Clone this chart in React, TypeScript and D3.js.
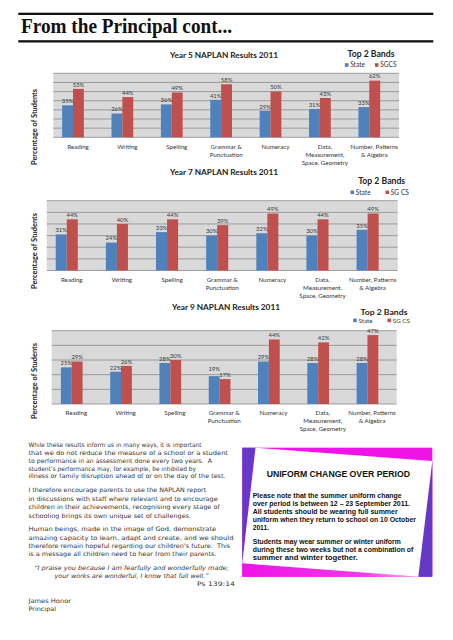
import React from "react";
import * as d3 from "d3";

// ---------- DATA ----------
const categories = [
  "Reading",
  "Writing",
  "Spelling",
  "Grammar & Punctuation",
  "Numeracy",
  "Data, Measurement, Space, Geometry",
  "Number, Patterns & Algebra",
];
const categoryLabelLines = [
  ["Reading"],
  ["Writing"],
  ["Spelling"],
  ["Grammar &", "Punctuation"],
  ["Numeracy"],
  ["Data,", "Measurement,", "Space, Geometry"],
  ["Number, Patterns", "& Algebra"],
];
const seriesNames = ["State", "SGCS"];
const legend5 = ["State", "SGCS"];
const legend79 = ["State", "SG CS"];

const year5State = [35, 26, 36, 41, 29, 31, 33];
const year5SGCS = [53, 44, 49, 58, 50, 43, 62];
const year7State = [31, 24, 33, 30, 32, 30, 35];
const year7SGCS = [44, 40, 44, 39, 49, 44, 49];
const year9State = [25, 22, 28, 19, 29, 28, 28];
const year9SGCS = [29, 26, 30, 17, 44, 42, 47];

const year5Grid = [0, 10, 20, 30, 40, 50, 60, 70];
const year7Grid = [0, 10, 20, 30, 40, 50, 60];
const year9Grid = [0, 10, 20, 30, 40, 50];

const pageTitle = "From the Principal cont...";
const para1 = [
  "While these results inform us in many ways, it is important",
  "that we do not reduce the measure of a school or a student",
  "to performance in an assessment done every two years.  A",
  "student\u2019s performance may, for example, be inhibited by",
  "illness or family disruption ahead of or on the day of the test.",
];
const para2 = [
  "I therefore encourage parents to use the NAPLAN report",
  "in discussions with staff where relevant and to encourage",
  "children in their achievements, recognising every stage of",
  "schooling brings its own unique set of challenges.",
];
const para3 = [
  "Human beings, made in the image of God, demonstrate",
  "amazing capacity to learn, adapt and create, and we should",
  "therefore remain hopeful regarding our children\u2019s future.  This",
  "is a message all children need to hear from their parents.",
];
const quoteLines = [
  "\u201CI praise you because I am fearfully and wonderfully made;",
  "your works are wonderful, I know that full well.\u201D",
];
const quoteRef = "Ps 139:14";
const signature = ["James Honor", "Principal"];

const boxTitle = "UNIFORM CHANGE OVER PERIOD";
const boxPara1 = [
  "Please note that the summer uniform change",
  "over period is between 12 \u2013 23 September 2011.",
  "All students should be wearing full summer",
  "uniform when they return to school on 10 October",
  "2011.",
];
const boxPara2 = [
  "Students may wear summer or winter uniform",
  "during these two weeks but not a combination of",
  "summer and winter together.",
];

// ---------- LAYOUT (positions / sizes only) ----------
const para1W = [173, 199.5, 183.5, 167.5, 197];
const para2W = [177.7, 189.3, 191.3, 162.7];
const para3W = [187.7, 205, 201.7, 188];
const quoteW = [194.7, 154];
const boxPara1W = [149, 157.3, 145, 163.3, 16.3];
const boxPara2W = [148, 160.7, 105];

const BLUE = "#4f81bd";
const RED = "#c0504d";
const colors = [BLUE, RED];
const CHART_FONT = "Lato, 'Open Sans', sans-serif";
const PROSE_FONT = "'DejaVu Sans', 'Open Sans', sans-serif";
const BOX_FONT = "'Liberation Sans', Arial, sans-serif";

type Layout = {
  x0: number; x1: number; y0: number; y1: number;
  barShift: number;
  titleCX: number; titleCY: number;
  bandsCX: number; bandsBase: number; bandsSize: number;
  legendY: number; legendSize: number; stateX: number; sgcsX: number;
  yTitleCY: number;
};

const layout5: Layout = {
  x0: 53.3, x1: 399, y0: 73.3, y1: 137.3, barShift: 5,
  titleCX: 224, titleCY: 55, bandsCX: 371, bandsBase: 56.6, bandsSize: 9,
  legendY: 65, legendSize: 6.6, stateX: 346.7, sgcsX: 376.7, yTitleCY: 127,
};
const layout7: Layout = {
  x0: 46.7, x1: 397.7, y0: 200.7, y1: 270.5, barShift: 5,
  titleCX: 224, titleCY: 171.7, bandsCX: 381.7, bandsBase: 184.1, bandsSize: 9,
  legendY: 192.3, legendSize: 6.6, stateX: 352.3, sgcsX: 387.3, yTitleCY: 251,
};
const layout9: Layout = {
  x0: 51.7, x1: 396.7, y0: 330.7, y1: 404, barShift: 4.6,
  titleCX: 226, titleCY: 307.3, bandsCX: 384, bandsBase: 315, bandsSize: 8,
  legendY: 320.4, legendSize: 6.2, stateX: 355, sgcsX: 389.3, yTitleCY: 381,
};

function NaplanChart(props: {
  title: string;
  state: number[];
  sgcs: number[];
  grid: number[];
  legend: string[];
  L: Layout;
}) {
  const { title, state, sgcs, grid, legend, L } = props;
  const series = [state, sgcs];
  const x = d3.scaleBand<string>().domain(categories).range([L.x0, L.x1]);
  const xb = d3
    .scaleBand<string>()
    .domain(categories)
    .range([L.x0 - L.barShift, L.x1 - L.barShift]);
  const barW = xb.step() * 0.22;
  const sub = d3.scaleBand<string>().domain(seriesNames).range([0, barW * 2]);
  const y = d3
    .scaleLinear()
    .domain([0, d3.max(grid) as number])
    .range([L.y1, L.y0]);

  const bars: any[] = [];
  const labels: any[] = [];
  categories.forEach((c, i) => {
    const redLabelY = y(sgcs[i]) - 2.2;
    seriesNames.forEach((s, j) => {
      const v = series[j][i];
      const bx = (xb(c) as number) + xb.bandwidth() / 2 - barW + (sub(s) as number);
      let ly = y(v) - 2.2;
      // lift the State label when it would collide with the SGCS label beside it
      if (j === 0 && state[i] >= sgcs[i]) ly = Math.min(ly, redLabelY - 6);
      bars.push(
        <rect
          key={`b-${i}-${j}`}
          x={bx}
          y={y(v)}
          width={sub.bandwidth()}
          height={y(0) - y(v)}
          fill={colors[j]}
        />
      );
      labels.push(
        <text
          key={`l-${i}-${j}`}
          x={bx + sub.bandwidth() / 2}
          y={ly}
          textAnchor="middle"
          fontSize={5.9}
          fill="#3a3a3a"
          fontFamily={CHART_FONT}
        >
          {v}%
        </text>
      );
    });
  });

  return (
    <g>
      <rect x={L.x0} y={L.y0} width={L.x1 - L.x0} height={L.y1 - L.y0} fill="#d9d9d9" />
      {grid.map((g) => (
        <line
          key={`g-${g}`}
          x1={L.x0}
          x2={L.x1}
          y1={y(g)}
          y2={y(g)}
          stroke="#8a8a8a"
          strokeWidth={0.8}
        />
      ))}
      {bars}
      {labels}
      {categories.map((c, i) =>
        categoryLabelLines[i].map((line, k) => (
          <text
            key={`x-${i}-${k}`}
            x={(x(c) as number) + x.bandwidth() / 2}
            y={L.y1 + 11.3 + k * 8}
            textAnchor="middle"
            fontSize={6.2}
            fill="#333"
            fontFamily={CHART_FONT}
          >
            {line}
          </text>
        ))
      )}
      <text
        transform={`translate(36.5,${L.yTitleCY}) rotate(-90)`}
        textAnchor="middle"
        fontSize={7.4}
        fontWeight="bold"
        fill="#222"
        fontFamily={CHART_FONT}
        textLength={76}
        lengthAdjust="spacingAndGlyphs"
      >
        Percentage of Students
      </text>
      <text
        x={L.titleCX}
        y={L.titleCY + 3}
        textAnchor="middle"
        fontSize={8.2}
        fontWeight="bold"
        fill="#222"
        fontFamily={CHART_FONT}
        textLength={108}
        lengthAdjust="spacingAndGlyphs"
      >
        {title}
      </text>
      <text
        x={L.bandsCX}
        y={L.bandsBase}
        textAnchor="middle"
        fontSize={L.bandsSize}
        fontWeight="bold"
        fill="#222"
        fontFamily={CHART_FONT}
        textLength={47}
        lengthAdjust="spacingAndGlyphs"
      >
        Top 2 Bands
      </text>
      {[L.stateX, L.sgcsX].map((lx, j) => (
        <g key={`lg-${j}`}>
          <rect x={lx - 1.8} y={L.legendY - 1.8} width={3.6} height={3.6} fill={colors[j]} />
          <text
            x={lx + 3.5}
            y={L.legendY + 2.3}
            fontSize={L.legendSize}
            fill="#333"
            fontFamily={CHART_FONT}
          >
            {legend[j]}
          </text>
        </g>
      ))}
    </g>
  );
}

function Lines(props: {
  lines: string[];
  widths?: number[];
  x: number;
  y: number;
  dy: number;
  size: number;
  family: string;
  weight?: string;
  italic?: boolean;
  anchor?: string;
  fill?: string;
}) {
  const { lines, widths, x, y, dy, size, family, weight, italic, anchor, fill } = props;
  return (
    <g>
      {lines.map((t, i) => (
        <text
          key={i}
          x={x}
          y={y + i * dy}
          fontSize={size}
          fontFamily={family}
          fontWeight={weight || "normal"}
          fontStyle={italic ? "italic" : "normal"}
          textAnchor={(anchor as any) || "start"}
          fill={fill || "#333"}
          textLength={widths ? widths[i] : undefined}
          lengthAdjust={widths ? "spacingAndGlyphs" : undefined}
          style={{ whiteSpace: "pre" }}
        >
          {t}
        </text>
      ))}
    </g>
  );
}

export default function App() {
  // box geometry
  const bx0 = 242.3, bx1 = 432.3, by0 = 447.7, by1 = 576.7;
  const wTL: [number, number] = [255.5, 447.7];
  const wTR: [number, number] = [432.3, 461];
  const wBR: [number, number] = [418.3, 576.7];
  const wBL: [number, number] = [242.3, 563.3];
  const poly = (pts: [number, number][]) => pts.map((p) => p.join(",")).join(" ");

  return (
    <svg
      width={453}
      height={640}
      viewBox="0 0 453 640"
      style={{ position: "absolute", left: 0, top: 0, display: "block", background: "#fff" }}
    >
      <defs>
        <linearGradient id="magBottom" x1="0" x2="1" y1="0" y2="0">
          <stop offset="0" stopColor="#ee12e6" />
          <stop offset="0.7" stopColor="#f03ae8" />
          <stop offset="1" stopColor="#f7b4f2" />
        </linearGradient>
      </defs>
      <rect x={0} y={0} width={453} height={640} fill="#fff" />
      {/* header */}
      <rect x={18.3} y={12.7} width={415} height={2.3} fill="#111" />
      <rect x={18.3} y={40.2} width={415} height={2.3} fill="#111" />
      <text
        x={21}
        y={33.3}
        fontSize={20}
        fontWeight="bold"
        fontFamily="'Liberation Serif', 'DejaVu Serif', serif"
        fill="#111"
        textLength={211}
        lengthAdjust="spacingAndGlyphs"
      >
        {pageTitle}
      </text>

      <NaplanChart title="Year 5 NAPLAN Results 2011" state={year5State} sgcs={year5SGCS} grid={year5Grid} legend={legend5} L={layout5} />
      <NaplanChart title="Year 7 NAPLAN Results 2011" state={year7State} sgcs={year7SGCS} grid={year7Grid} legend={legend79} L={layout7} />
      <NaplanChart title="Year 9 NAPLAN Results 2011" state={year9State} sgcs={year9SGCS} grid={year9Grid} legend={legend79} L={layout9} />

      {/* prose */}
      <Lines lines={para1} widths={para1W} x={28.5} y={446.8} dy={7.9} size={6.1} family={PROSE_FONT} />
      <Lines lines={para2} widths={para2W} x={28.5} y={492.3} dy={8.4} size={6.1} family={PROSE_FONT} />
      <Lines lines={para3} widths={para3W} x={28.5} y={531.3} dy={8.3} size={6.1} family={PROSE_FONT} />
      <Lines lines={quoteLines} widths={quoteW} x={131.5} y={570} dy={8} size={6.1} family={PROSE_FONT} italic anchor="middle" />
      <Lines lines={[quoteRef]} widths={[38]} x={235} y={586.3} dy={8} size={6.1} family={PROSE_FONT} anchor="end" />
      <Lines lines={signature} widths={[42.5, 27.5]} x={28.5} y={603} dy={8.3} size={6.1} family={PROSE_FONT} />

      {/* uniform box */}
      <rect x={bx0} y={by0} width={bx1 - bx0} height={by1 - by0} fill="#ee14e8" />
      <polygon points={poly([[bx0, by1], wBL, wBR])} fill="url(#magBottom)" />
      <polygon points={poly([[bx0, by0], wTL, wBL])} fill="#6638c8" />
      <polygon points={poly([wTR, [bx1, by1], wBR])} fill="#6638c8" />
      <polygon points={poly([wTL, wTR, wBR, wBL])} fill="#fff" />
      <text
        x={338.3}
        y={477.2}
        textAnchor="middle"
        fontSize={9.2}
        fontWeight="bold"
        fontFamily={BOX_FONT}
        fill="#111"
        textLength={143.3}
        lengthAdjust="spacingAndGlyphs"
      >
        {boxTitle}
      </text>
      <Lines lines={boxPara1} widths={boxPara1W} x={252.7} y={497.5} dy={8.1} size={7} family={BOX_FONT} weight="bold" fill="#111" />
      <Lines lines={boxPara2} widths={boxPara2W} x={252.7} y={544.2} dy={8} size={7} family={BOX_FONT} weight="bold" fill="#111" />
    </svg>
  );
}
